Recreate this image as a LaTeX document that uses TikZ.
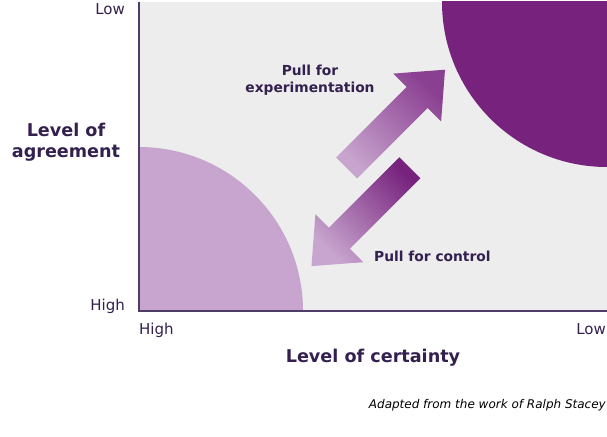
\documentclass[tikz,border=0pt]{standalone}
\usepackage{fontspec}
\setsansfont{DejaVu Sans}
\definecolor{cdark}{HTML}{77237E}
\definecolor{clight}{HTML}{C8A5CE}
\definecolor{cmid}{HTML}{8A3F91}
\definecolor{cback}{HTML}{EDEDED}
\definecolor{caxis}{HTML}{4E3D69}
\definecolor{ctext}{HTML}{33204F}
\tikzset{
  every picture/.style={font=\sffamily},
  scalelabel/.style={text=ctext, inner sep=0pt, font=\sffamily\fontsize{15}{18}\selectfont},
  axislabel/.style={text=ctext, inner sep=0pt, align=center, font=\sffamily\bfseries\fontsize{17.6}{21}\selectfont},
  pull/.style={text=ctext, inner sep=0pt, align=center, font=\sffamily\bfseries\fontsize{13.8}{17}\selectfont},
  credit/.style={text=black, inner sep=0pt, font=\sffamily\itshape\fontsize{12}{14}\selectfont},
  axisline/.style={draw=caxis, line width=2pt},
}

\begin{document}
\begin{tikzpicture}[x=1pt, y=-1pt]
  \useasboundingbox (0,0) rectangle (607,436);
  % plot area
  \fill[cback] (139,2) rectangle (607,311);
  \begin{scope}
    \clip (139,2) rectangle (607,311);
    \fill[cdark] (607,2) circle[radius=165];
    \fill[clight] (139,311) circle[radius=164];
  \end{scope}
  % the two pulls
  \shade[bottom color=clight, top color=cmid, shading angle=-45] (336.2,157.5) -- (406.6,87.1) -- (393.1,73.6) -- (445,69.7) -- (441.1,121.6) -- (427.6,108.1) -- (357.2,178.5) -- cycle;
  \shade[bottom color=clight, top color=cdark, shading angle=-45] (399.3,157.3) -- (328.9,227.7) -- (315.4,214.2) -- (311.5,266.1) -- (363.4,262.2) -- (349.9,248.7) -- (420.3,178.3) -- cycle;
  % axes
  \draw[axisline] (139,2) -- (139,311) -- (607,311);
  \node[scalelabel, anchor=base east] (agreeLow) at (125,15) {Low};
  \node[scalelabel, anchor=base east] (agreeHigh) at (125,310) {High};
  \node[scalelabel, anchor=base west] (certHigh) at (139,334) {High};
  \node[scalelabel, anchor=base east] (certLow) at (606,334) {Low};
  \node[axislabel] (agreement) at (66,142) {Level of\\agreement};
  \node[axislabel, anchor=base] (certainty) at (373,362) {Level of certainty};
  \node[pull] (experiment) at (310,80.5) {Pull for\\experimentation};
  \node[pull, anchor=base west] (control) at (374,261.5) {Pull for control};
  \node[credit, anchor=base east] (source) at (606,408) {Adapted from the work of Ralph Stacey};
\end{tikzpicture}
\end{document}
